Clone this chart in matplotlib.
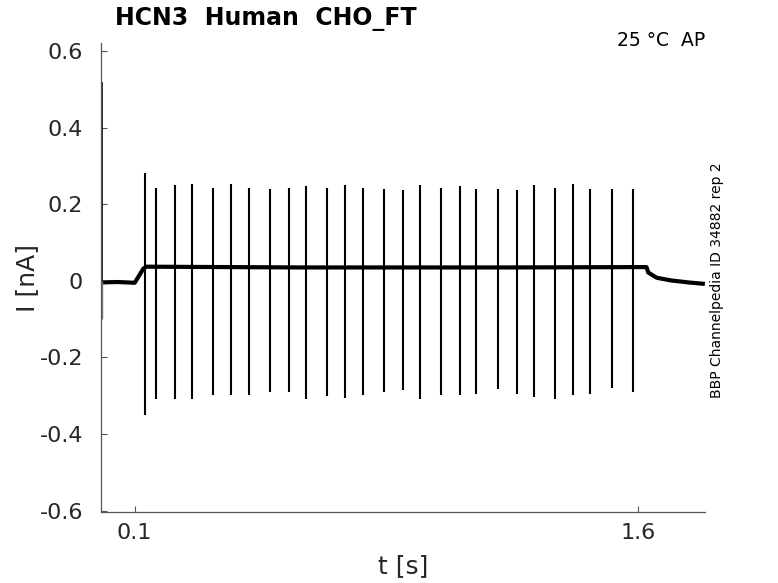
import numpy as np
import matplotlib.pyplot as plt

# spike train (time in s, current in nA)
spike_t = [0.130, 0.165, 0.221, 0.272, 0.333, 0.388, 0.440, 0.503, 0.561,
           0.612, 0.672, 0.728, 0.780, 0.843, 0.901, 0.952, 1.013, 1.069,
           1.119, 1.183, 1.241, 1.292, 1.353, 1.408, 1.459, 1.523, 1.585]
spike_up = [0.281, 0.243, 0.251, 0.252, 0.243, 0.253, 0.243, 0.240, 0.242,
            0.247, 0.242, 0.250, 0.242, 0.240, 0.238, 0.249, 0.243, 0.248,
            0.241, 0.240, 0.238, 0.250, 0.242, 0.252, 0.240, 0.240, 0.240]
spike_down = [-0.350, -0.309, -0.309, -0.309, -0.297, -0.298, -0.297, -0.289, -0.290,
              -0.309, -0.300, -0.306, -0.297, -0.289, -0.284, -0.309, -0.297, -0.299,
              -0.295, -0.281, -0.295, -0.303, -0.308, -0.299, -0.296, -0.280, -0.289]

# holding current baseline
base_t = [0.003, 0.05, 0.100, 0.112, 0.126, 0.135, 0.60, 1.20, 1.626, 1.631, 1.640, 1.657, 1.700, 1.750, 1.800]
base_i = [-0.004, -0.003, -0.005, 0.012, 0.032, 0.037, 0.035, 0.035, 0.036, 0.022, 0.017, 0.008, 0.001, -0.004, -0.008]

# capacitive transient at the start
onset_t = 0.004
onset_top = 0.52
onset_bottom = -0.10

fig = plt.figure(figsize=(7.78, 5.83), dpi=100)
ax = fig.add_axes([0.130, 0.1213, 0.776, 0.8044])

ax.plot(base_t, base_i, color='black', lw=3.0, solid_capstyle='butt')
ax.vlines(spike_t, spike_down, spike_up, color='black', lw=1.5)
ax.vlines([onset_t], [0.0], [onset_top], color='black', lw=1.2)
ax.vlines([onset_t], [onset_bottom], [0.0], color='#777777', lw=1.0)

ax.set_xlim(0, 1.8)
ax.set_ylim(-0.604, 0.62)

yt = [-0.6, -0.4, -0.2, 0, 0.2, 0.4, 0.6]
ax.set_yticks(yt)
ax.set_yticklabels(['-0.6', '-0.4', '-0.2', '0', '0.2', '0.4', '0.6'])
ax.set_xticks([0.1, 1.6])
ax.set_xticklabels(['0.1', '1.6'])

for s in ['top', 'right']:
    ax.spines[s].set_visible(False)
for s in ['left', 'bottom']:
    ax.spines[s].set_color('#555555')
    ax.spines[s].set_linewidth(0.9)

ax.tick_params(axis='both', direction='in', length=4.5, width=0.8, color='#555555',
               labelcolor='#262626', labelsize=16)
ax.tick_params(axis='y', pad=13)
ax.tick_params(axis='x', pad=8)

ax.set_ylabel('I [nA]', fontsize=18, color='#262626', labelpad=0)
ax.set_xlabel('t [s]', fontsize=18, color='#262626', labelpad=8)

fig.text(0.148, 0.967, 'HCN3  Human  CHO_FT', fontsize=17, fontweight='bold',
         ha='left', va='center')
fig.text(0.906, 0.931, '25 °C  AP', fontsize=13.5, ha='right', va='center')
fig.text(0.921, 0.52, 'BBP Channelpedia ID 34882 rep 2', fontsize=10,
         rotation=90, ha='center', va='center')

fig.savefig('out.png', dpi=100)
